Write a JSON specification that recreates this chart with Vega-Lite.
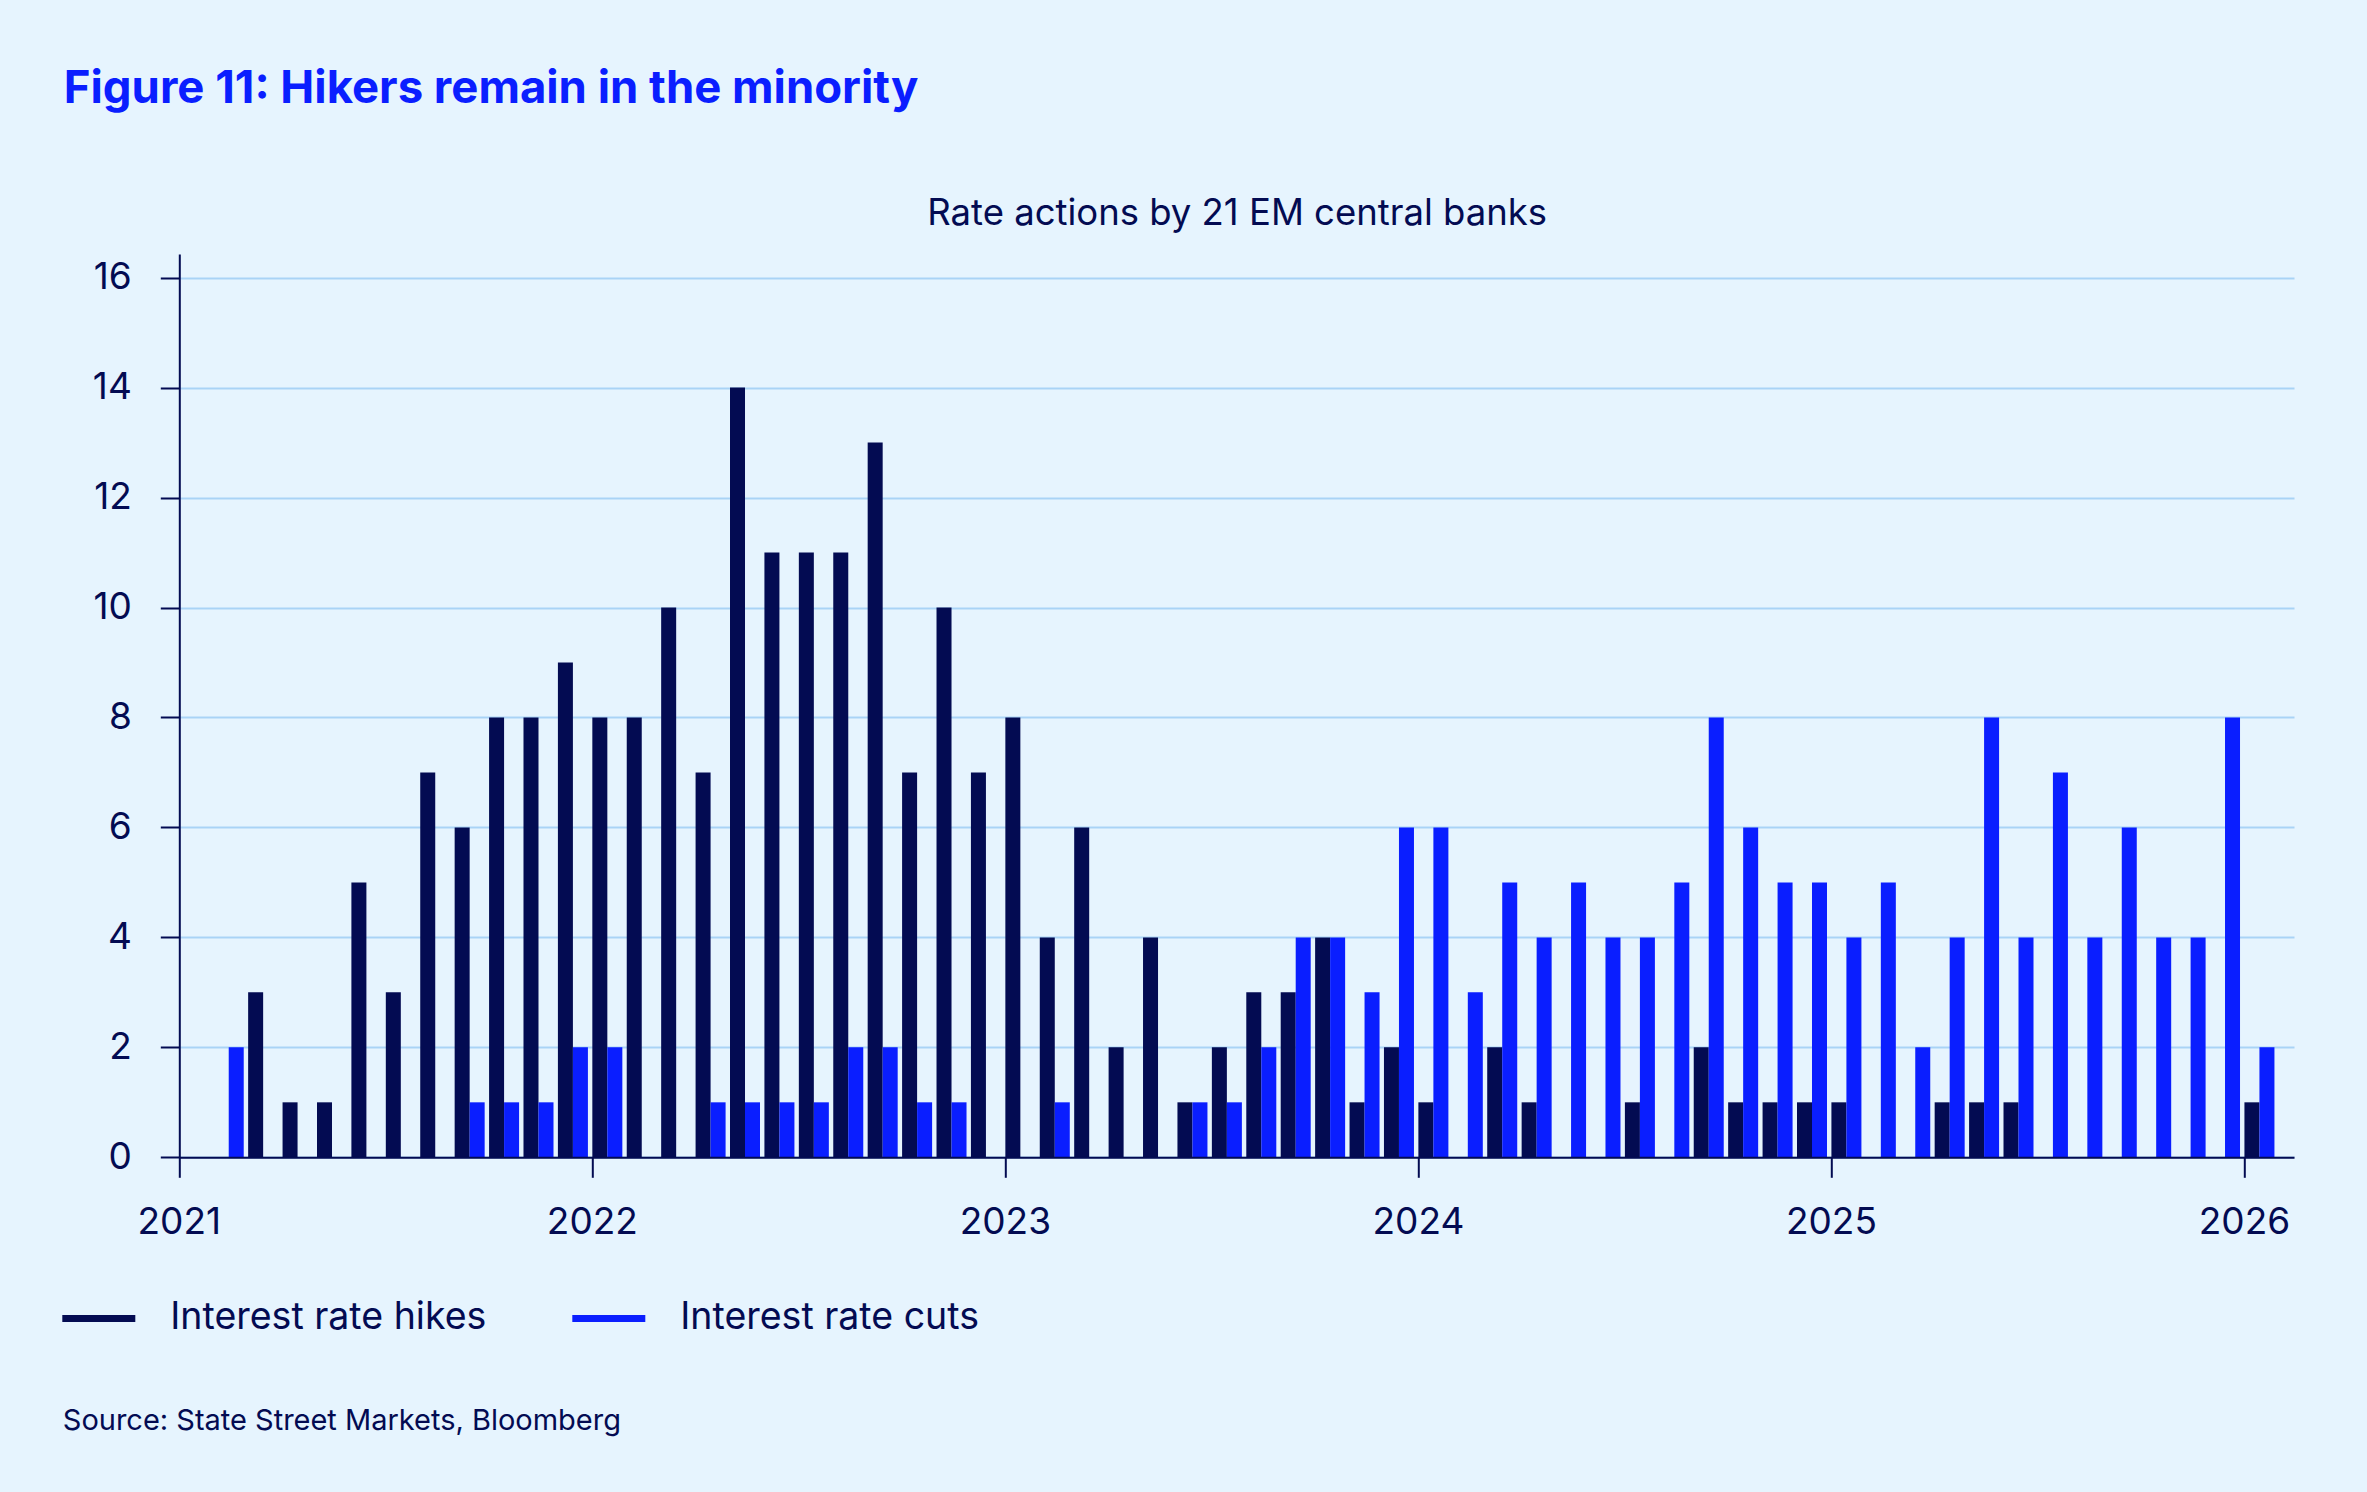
{
  "$schema": "https://vega.github.io/schema/vega-lite/v6.json",
  "autosize": "none",
  "width": 2114.7,
  "height": 903.3,
  "padding": {"left": 179.3, "top": 254, "right": 73, "bottom": 335},
  "background": "#E6F4FE",
  "config": {"font": "Inter", "view": {"stroke": null}},
  "title": {
    "text": "Figure 11: Hikers remain in the minority",
    "anchor": "start",
    "frame": "group",
    "dx": -115.5,
    "offset": 83.5,
    "fontSize": 45.5,
    "fontWeight": 700,
    "color": "#0A1EFF",
    "font": "Inter"
  },
  "data": {
    "values": [
      {"month": "2021-01", "type": "Interest rate hikes", "count": 0}, {"month": "2021-01", "type": "Interest rate cuts", "count": 0},
      {"month": "2021-02", "type": "Interest rate hikes", "count": 0}, {"month": "2021-02", "type": "Interest rate cuts", "count": 2},
      {"month": "2021-03", "type": "Interest rate hikes", "count": 3}, {"month": "2021-03", "type": "Interest rate cuts", "count": 0},
      {"month": "2021-04", "type": "Interest rate hikes", "count": 1}, {"month": "2021-04", "type": "Interest rate cuts", "count": 0},
      {"month": "2021-05", "type": "Interest rate hikes", "count": 1}, {"month": "2021-05", "type": "Interest rate cuts", "count": 0},
      {"month": "2021-06", "type": "Interest rate hikes", "count": 5}, {"month": "2021-06", "type": "Interest rate cuts", "count": 0},
      {"month": "2021-07", "type": "Interest rate hikes", "count": 3}, {"month": "2021-07", "type": "Interest rate cuts", "count": 0},
      {"month": "2021-08", "type": "Interest rate hikes", "count": 7}, {"month": "2021-08", "type": "Interest rate cuts", "count": 0},
      {"month": "2021-09", "type": "Interest rate hikes", "count": 6}, {"month": "2021-09", "type": "Interest rate cuts", "count": 1},
      {"month": "2021-10", "type": "Interest rate hikes", "count": 8}, {"month": "2021-10", "type": "Interest rate cuts", "count": 1},
      {"month": "2021-11", "type": "Interest rate hikes", "count": 8}, {"month": "2021-11", "type": "Interest rate cuts", "count": 1},
      {"month": "2021-12", "type": "Interest rate hikes", "count": 9}, {"month": "2021-12", "type": "Interest rate cuts", "count": 2},
      {"month": "2022-01", "type": "Interest rate hikes", "count": 8}, {"month": "2022-01", "type": "Interest rate cuts", "count": 2},
      {"month": "2022-02", "type": "Interest rate hikes", "count": 8}, {"month": "2022-02", "type": "Interest rate cuts", "count": 0},
      {"month": "2022-03", "type": "Interest rate hikes", "count": 10}, {"month": "2022-03", "type": "Interest rate cuts", "count": 0},
      {"month": "2022-04", "type": "Interest rate hikes", "count": 7}, {"month": "2022-04", "type": "Interest rate cuts", "count": 1},
      {"month": "2022-05", "type": "Interest rate hikes", "count": 14}, {"month": "2022-05", "type": "Interest rate cuts", "count": 1},
      {"month": "2022-06", "type": "Interest rate hikes", "count": 11}, {"month": "2022-06", "type": "Interest rate cuts", "count": 1},
      {"month": "2022-07", "type": "Interest rate hikes", "count": 11}, {"month": "2022-07", "type": "Interest rate cuts", "count": 1},
      {"month": "2022-08", "type": "Interest rate hikes", "count": 11}, {"month": "2022-08", "type": "Interest rate cuts", "count": 2},
      {"month": "2022-09", "type": "Interest rate hikes", "count": 13}, {"month": "2022-09", "type": "Interest rate cuts", "count": 2},
      {"month": "2022-10", "type": "Interest rate hikes", "count": 7}, {"month": "2022-10", "type": "Interest rate cuts", "count": 1},
      {"month": "2022-11", "type": "Interest rate hikes", "count": 10}, {"month": "2022-11", "type": "Interest rate cuts", "count": 1},
      {"month": "2022-12", "type": "Interest rate hikes", "count": 7}, {"month": "2022-12", "type": "Interest rate cuts", "count": 0},
      {"month": "2023-01", "type": "Interest rate hikes", "count": 8}, {"month": "2023-01", "type": "Interest rate cuts", "count": 0},
      {"month": "2023-02", "type": "Interest rate hikes", "count": 4}, {"month": "2023-02", "type": "Interest rate cuts", "count": 1},
      {"month": "2023-03", "type": "Interest rate hikes", "count": 6}, {"month": "2023-03", "type": "Interest rate cuts", "count": 0},
      {"month": "2023-04", "type": "Interest rate hikes", "count": 2}, {"month": "2023-04", "type": "Interest rate cuts", "count": 0},
      {"month": "2023-05", "type": "Interest rate hikes", "count": 4}, {"month": "2023-05", "type": "Interest rate cuts", "count": 0},
      {"month": "2023-06", "type": "Interest rate hikes", "count": 1}, {"month": "2023-06", "type": "Interest rate cuts", "count": 1},
      {"month": "2023-07", "type": "Interest rate hikes", "count": 2}, {"month": "2023-07", "type": "Interest rate cuts", "count": 1},
      {"month": "2023-08", "type": "Interest rate hikes", "count": 3}, {"month": "2023-08", "type": "Interest rate cuts", "count": 2},
      {"month": "2023-09", "type": "Interest rate hikes", "count": 3}, {"month": "2023-09", "type": "Interest rate cuts", "count": 4},
      {"month": "2023-10", "type": "Interest rate hikes", "count": 4}, {"month": "2023-10", "type": "Interest rate cuts", "count": 4},
      {"month": "2023-11", "type": "Interest rate hikes", "count": 1}, {"month": "2023-11", "type": "Interest rate cuts", "count": 3},
      {"month": "2023-12", "type": "Interest rate hikes", "count": 2}, {"month": "2023-12", "type": "Interest rate cuts", "count": 6},
      {"month": "2024-01", "type": "Interest rate hikes", "count": 1}, {"month": "2024-01", "type": "Interest rate cuts", "count": 6},
      {"month": "2024-02", "type": "Interest rate hikes", "count": 0}, {"month": "2024-02", "type": "Interest rate cuts", "count": 3},
      {"month": "2024-03", "type": "Interest rate hikes", "count": 2}, {"month": "2024-03", "type": "Interest rate cuts", "count": 5},
      {"month": "2024-04", "type": "Interest rate hikes", "count": 1}, {"month": "2024-04", "type": "Interest rate cuts", "count": 4},
      {"month": "2024-05", "type": "Interest rate hikes", "count": 0}, {"month": "2024-05", "type": "Interest rate cuts", "count": 5},
      {"month": "2024-06", "type": "Interest rate hikes", "count": 0}, {"month": "2024-06", "type": "Interest rate cuts", "count": 4},
      {"month": "2024-07", "type": "Interest rate hikes", "count": 1}, {"month": "2024-07", "type": "Interest rate cuts", "count": 4},
      {"month": "2024-08", "type": "Interest rate hikes", "count": 0}, {"month": "2024-08", "type": "Interest rate cuts", "count": 5},
      {"month": "2024-09", "type": "Interest rate hikes", "count": 2}, {"month": "2024-09", "type": "Interest rate cuts", "count": 8},
      {"month": "2024-10", "type": "Interest rate hikes", "count": 1}, {"month": "2024-10", "type": "Interest rate cuts", "count": 6},
      {"month": "2024-11", "type": "Interest rate hikes", "count": 1}, {"month": "2024-11", "type": "Interest rate cuts", "count": 5},
      {"month": "2024-12", "type": "Interest rate hikes", "count": 1}, {"month": "2024-12", "type": "Interest rate cuts", "count": 5},
      {"month": "2025-01", "type": "Interest rate hikes", "count": 1}, {"month": "2025-01", "type": "Interest rate cuts", "count": 4},
      {"month": "2025-02", "type": "Interest rate hikes", "count": 0}, {"month": "2025-02", "type": "Interest rate cuts", "count": 5},
      {"month": "2025-03", "type": "Interest rate hikes", "count": 0}, {"month": "2025-03", "type": "Interest rate cuts", "count": 2},
      {"month": "2025-04", "type": "Interest rate hikes", "count": 1}, {"month": "2025-04", "type": "Interest rate cuts", "count": 4},
      {"month": "2025-05", "type": "Interest rate hikes", "count": 1}, {"month": "2025-05", "type": "Interest rate cuts", "count": 8},
      {"month": "2025-06", "type": "Interest rate hikes", "count": 1}, {"month": "2025-06", "type": "Interest rate cuts", "count": 4},
      {"month": "2025-07", "type": "Interest rate hikes", "count": 0}, {"month": "2025-07", "type": "Interest rate cuts", "count": 7},
      {"month": "2025-08", "type": "Interest rate hikes", "count": 0}, {"month": "2025-08", "type": "Interest rate cuts", "count": 4},
      {"month": "2025-09", "type": "Interest rate hikes", "count": 0}, {"month": "2025-09", "type": "Interest rate cuts", "count": 6},
      {"month": "2025-10", "type": "Interest rate hikes", "count": 0}, {"month": "2025-10", "type": "Interest rate cuts", "count": 4},
      {"month": "2025-11", "type": "Interest rate hikes", "count": 0}, {"month": "2025-11", "type": "Interest rate cuts", "count": 4},
      {"month": "2025-12", "type": "Interest rate hikes", "count": 0}, {"month": "2025-12", "type": "Interest rate cuts", "count": 8},
      {"month": "2026-01", "type": "Interest rate hikes", "count": 1}, {"month": "2026-01", "type": "Interest rate cuts", "count": 2}
    ]
  },
  "layer": [
    {
      "mark": {"type": "bar"},
      "encoding": {
        "x": {
          "field": "month",
          "type": "ordinal",
          "scale": {"paddingInner": 0, "paddingOuter": 0.22, "align": 0},
          "axis": {
            "orient": "bottom",
            "values": ["2021-01", "2022-01", "2023-01", "2024-01", "2025-01", "2026-01"],
            "bandPosition": 0,
            "labelExpr": "substring(datum.value, 0, 4)",
            "labelAngle": 0,
            "labelAlign": "center",
            "labelBaseline": "top",
            "labelOffset": -17.2,
            "labelFontSize": 37,
            "labelColor": "#030B52",
            "labelPadding": 27,
            "labelFlush": false,
            "labelOverlap": false,
            "tickSize": 20,
            "tickWidth": 2,
            "tickColor": "#030B52",
            "domainColor": "#030B52",
            "domainWidth": 2,
            "grid": false,
            "zindex": 1,
            "title": "Source: State Street Markets, Bloomberg",
            "titleX": -117,
            "titleY": 272,
            "titleAlign": "left",
            "titleAngle": 0,
            "titleBaseline": "alphabetic",
            "titleFontSize": 29,
            "titleFontWeight": "normal",
            "titleColor": "#030B52"
          }
        },
        "xOffset": {
          "field": "type",
          "type": "nominal",
          "scale": {"domain": ["Interest rate hikes", "Interest rate cuts"], "paddingInner": 0, "paddingOuter": 0.147, "align": 0}
        },
        "y": {
          "field": "count",
          "type": "quantitative",
          "scale": {"domain": [0, 16.43], "nice": false},
          "axis": {
            "values": [0, 2, 4, 6, 8, 10, 12, 14, 16],
            "grid": true,
            "gridColor": "#A9D3F6",
            "gridWidth": 2,
            "domainColor": "#030B52",
            "domainWidth": 2,
            "tickColor": "#030B52",
            "tickWidth": 2,
            "tickSize": 19,
            "labelFontSize": 37,
            "labelPadding": 29,
            "labelColor": "#030B52",
            "title": null
          }
        },
        "color": {
          "field": "type",
          "type": "nominal",
          "scale": {"domain": ["Interest rate hikes", "Interest rate cuts"], "range": ["#030B52", "#0A1EFF"]},
          "legend": {
            "title": null,
            "orient": "none",
            "legendX": -117,
            "legendY": 1028,
            "direction": "horizontal",
            "symbolType": "M-1,-0.096H1V0.096H-1Z",
            "symbolSize": 5329,
            "symbolStrokeWidth": 0,
            "symbolOpacity": 1,
            "labelFontSize": 37.5,
            "labelColor": "#030B52",
            "labelOffset": 35,
            "columnPadding": 85,
            "labelLimit": 0,
            "padding": 0
          }
        }
      }
    },
    {
      "mark": {"type": "bar", "opacity": 0},
      "encoding": {
        "x": {
          "field": "month",
          "type": "ordinal",
          "scale": {"paddingInner": 0, "paddingOuter": 0.22, "align": 0},
          "axis": {
            "orient": "top",
            "domain": false,
            "ticks": false,
            "labels": false,
            "grid": false,
            "title": "Rate actions by 21 EM central banks",
            "titleFontSize": 36.5,
            "titleFontWeight": "normal",
            "titleColor": "#030B52",
            "titlePadding": 21
          }
        }
      }
    }
  ],
  "resolve": {"axis": {"x": "independent"}}
}
